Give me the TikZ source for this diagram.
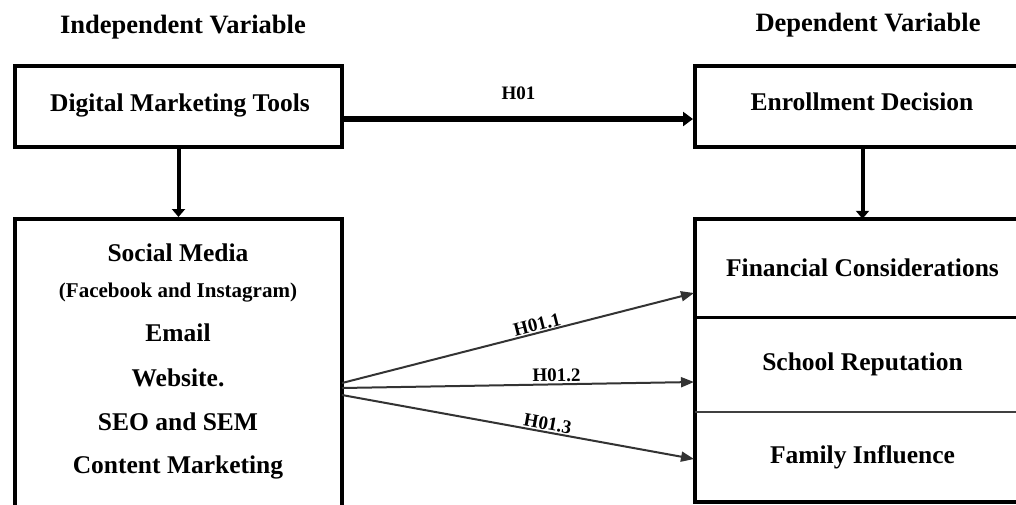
\documentclass[tikz,border=0pt]{standalone}
\usepackage{fontspec}
\setmainfont{Liberation Serif}
\usetikzlibrary{arrows.meta}
\tikzset{
  lbl/.style={font=\fontsize{25.5}{30}\selectfont\bfseries, inner sep=0pt},
  sublbl/.style={font=\fontsize{21}{25}\selectfont\bfseries, inner sep=0pt},
  hdr/.style={font=\fontsize{26.5}{30}\selectfont\bfseries, inner sep=0pt},
  hlbl/.style={font=\fontsize{19}{22}\selectfont\bfseries, inner sep=0pt},
  frame/.style={draw=black, line width=4pt},
  cell/.style={inner sep=0pt, minimum width=335pt, font=\fontsize{25.5}{30}\selectfont\bfseries},
  thickarrow/.style={line width=5.5pt, -{Triangle[length=10pt,width=14pt]}},
  downarrow/.style={line width=4pt, -{Triangle[length=8pt,width=13pt]}},
  hyparrow/.style={line width=2pt, draw=black!80, -{Triangle[length=13pt,width=10pt]}}
}
\begin{document}
\begin{tikzpicture}[x=1pt,y=-1pt]
\useasboundingbox (0,0) rectangle (1016,504);
% headers
\node[hdr] (hind) at (183,27) {Independent Variable};
\node[hdr] (hdep) at (868,25) {Dependent Variable};
% top boxes
\node[frame, inner sep=0pt, minimum width=327pt, minimum height=81pt] (dmt) at (178.5,106.5) {};
\node[lbl] (dmtt) at (180,105) {Digital Marketing Tools};
\node[frame, inner sep=0pt, minimum width=335pt, minimum height=81pt] (ed) at (862.5,106.5) {};
\node[lbl] (edt) at (862,102) {Enrollment Decision};
% left bottom box
\node[frame, inner sep=0pt, minimum width=327pt, minimum height=296pt] (tools) at (178.5,367) {};
\node[lbl] (sm) at (178,253) {Social Media};
\node[sublbl] (fb) at (178,293) {(Facebook and Instagram)};
\node[lbl] (em) at (178,333) {Email};
\node[lbl] (ws) at (178,378) {Website.};
\node[lbl] (seo) at (178,422) {SEO and SEM};
\node[lbl] (cm) at (178,467) {Content Marketing};
% right bottom cells
\node[cell, minimum height=98pt] (fin) at (862.5,268) {Financial Considerations};
\node[cell, minimum height=95pt] (rep) at (862.5,364.5) {School Reputation};
\node[cell, minimum height=90pt] (fam) at (862.5,457) {Family Influence};
\draw[line width=4pt] (fin.north west) rectangle (fam.south east);
\draw[line width=3pt] (fin.south west) -- (fin.south east);
\draw[line width=2pt, draw=black!75] (rep.south west) -- (rep.south east);
% connectors
\draw[thickarrow] (dmt.east |- 0,119) -- (ed.west |- 0,119) node[hlbl, pos=0.5, above=17pt] (h01) {H01};
\draw[downarrow] (dmt.south) -- (tools.north);
\draw[downarrow] (ed.south) -- (fin.north);
\coordinate (s1) at (342,383);
\coordinate (s2) at (342,388);
\coordinate (s3) at (342,395);
\coordinate (e1) at (694,293);
\coordinate (e2) at (694,382);
\coordinate (e3) at (694,459);
\draw[hyparrow] (s1) -- (e1) node[hlbl, sloped, anchor=base, pos=0.56, yshift=2pt] (h11) {H01.1};
\draw[hyparrow] (s2) -- (e2) node[hlbl, sloped, anchor=base, pos=0.61, yshift=3pt] (h12) {H01.2};
\draw[hyparrow] (s3) -- (e3) node[hlbl, sloped, anchor=base, pos=0.58, yshift=2.5pt] (h13) {H01.3};
\end{tikzpicture}
\end{document}
